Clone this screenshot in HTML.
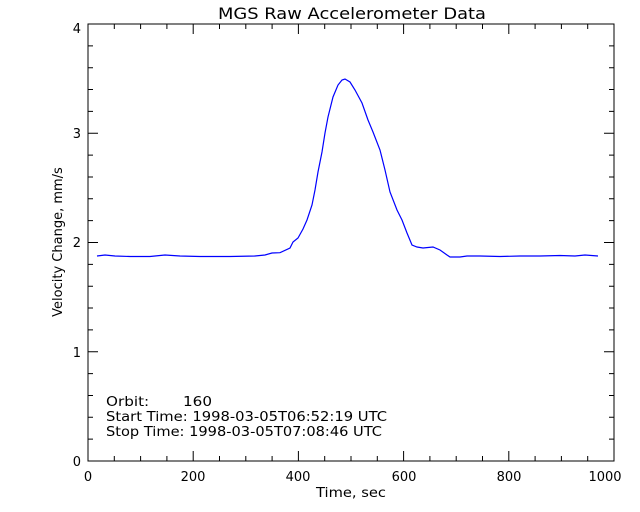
<!DOCTYPE html>
<html><head><style>body{margin:0;background:#fff}svg{display:block}text{font-family:"DejaVu Sans","Liberation Sans",sans-serif;font-size:13px;fill:#000;white-space:pre}</style></head>
<body>
<svg width="640" height="512" xmlns="http://www.w3.org/2000/svg">
<rect width="640" height="512" fill="#fff"/>
<text x="352" y="19" text-anchor="middle" style="font-size:16px" textLength="268" lengthAdjust="spacingAndGlyphs">MGS Raw Accelerometer Data</text>
<rect x="88" y="24" width="526" height="437" fill="none" stroke="#000" stroke-width="1"/>
<g stroke="#000" stroke-width="1">
<path d="M193.2,461v-10M298.4,461v-10M403.6,461v-10M508.8,461v-10M193.2,24v10M298.4,24v10M403.6,24v10M508.8,24v10"/>
<path d="M114.3,461v-5M140.6,461v-5M166.9,461v-5M219.5,461v-5M245.8,461v-5M272.1,461v-5M324.7,461v-5M351,461v-5M377.3,461v-5M429.9,461v-5M456.2,461v-5M482.5,461v-5M535.1,461v-5M561.4,461v-5M587.7,461v-5"/>
<path d="M114.3,24v5M140.6,24v5M166.9,24v5M219.5,24v5M245.8,24v5M272.1,24v5M324.7,24v5M351,24v5M377.3,24v5M429.9,24v5M456.2,24v5M482.5,24v5M535.1,24v5M561.4,24v5M587.7,24v5"/>
<path d="M88,351.75h10M88,242.5h10M88,133.25h10M614,351.75h-10M614,242.5h-10M614,133.25h-10"/>
<path d="M88,439.15h5M88,417.3h5M88,395.45h5M88,373.6h5M88,329.9h5M88,308.05h5M88,286.2h5M88,264.35h5M88,220.65h5M88,198.8h5M88,176.95h5M88,155.1h5M88,111.4h5M88,89.55h5M88,67.7h5M88,45.85h5"/>
<path d="M614,439.15h-5M614,417.3h-5M614,395.45h-5M614,373.6h-5M614,329.9h-5M614,308.05h-5M614,286.2h-5M614,264.35h-5M614,220.65h-5M614,198.8h-5M614,176.95h-5M614,155.1h-5M614,111.4h-5M614,89.55h-5M614,67.7h-5M614,45.85h-5"/>
</g>
<g text-anchor="middle">
<text x="88" y="481">0</text><text x="193" y="481">200</text><text x="298" y="481">400</text><text x="404" y="481">600</text><text x="509" y="481">800</text><text x="605" y="481">1000</text>
<text x="351" y="497" textLength="70" lengthAdjust="spacingAndGlyphs">Time, sec</text>
</g>
<g text-anchor="end">
<text x="81" y="466">0</text><text x="81" y="357">1</text><text x="81" y="247">2</text><text x="81" y="138">3</text><text x="81" y="33">4</text>
</g>
<text transform="translate(62,242) rotate(-90)" text-anchor="middle">Velocity Change, mm/s</text>
<text x="106" y="406" textLength="106" lengthAdjust="spacingAndGlyphs">Orbit:       160</text>
<text x="106" y="421" textLength="281" lengthAdjust="spacingAndGlyphs">Start Time: 1998-03-05T06:52:19 UTC</text>
<text x="106" y="436" textLength="276" lengthAdjust="spacingAndGlyphs">Stop Time: 1998-03-05T07:08:46 UTC</text>
<polyline fill="none" stroke="#00f" stroke-width="1.2" points="97,256 105,255 115,256 130,256.5 150,256.5 165,255 180,256 200,256.5 230,256.5 255,256 265,255 272,253 280,252.7 290,248 293,242 298,238 303,229 307,220 312,205 315,190 318,172 322,152 325,133 328,117 333,97 338,85 342,80 345,79 350,82 355,90 362,103 368,120 373,132 380,150 385,170 390,192 397,210 402,220 407,233 412,245 417,247 423,248 433,247 440,250 447,255 450,257 460,257 467,256 480,256 500,256.5 520,256 540,256 560,255.5 575,256 585,255 598,256"/>
</svg>
</body></html>
